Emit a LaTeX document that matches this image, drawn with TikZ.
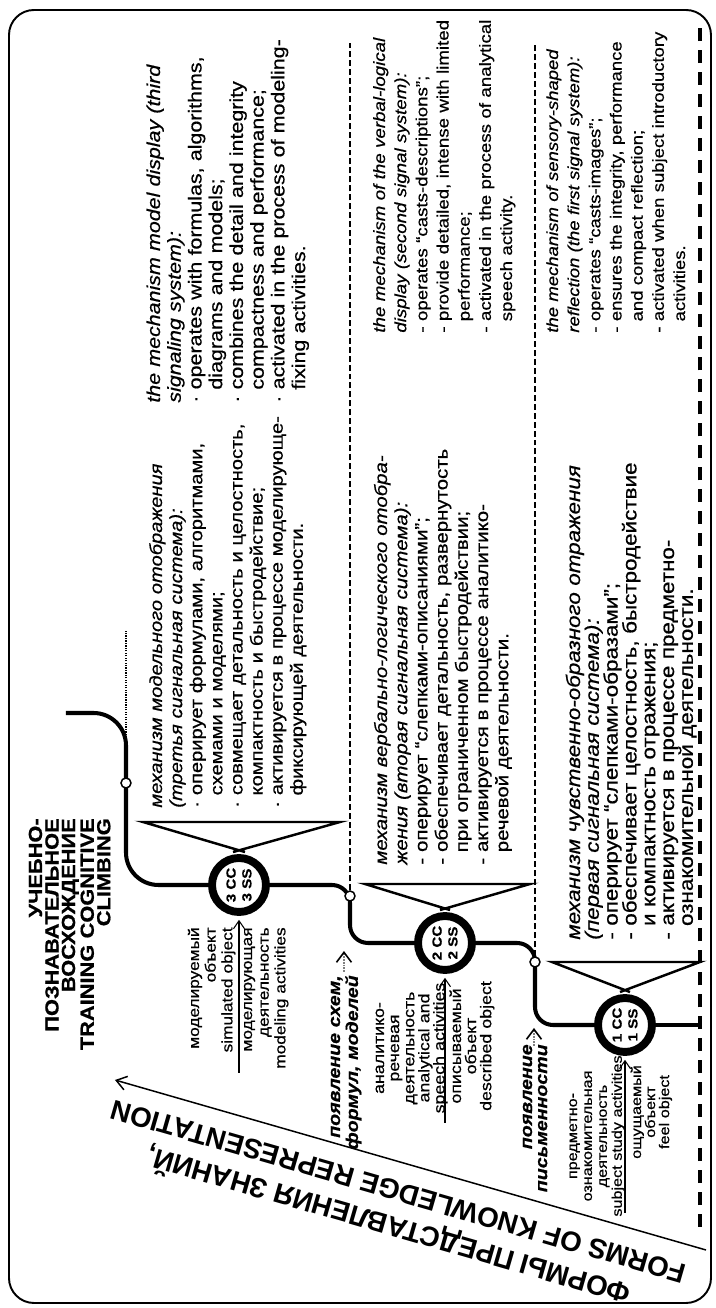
\documentclass[tikz,border=0pt]{standalone}
\usepackage{fontspec}
\setmainfont{Liberation Sans}[FakeStretch=1.15,FakeBold=0.6]
\newfontfamily\formsfont{Liberation Sans}
\usetikzlibrary{calc,arrows.meta}
\newcommand{\ind}{\hspace*{0.7em}}

\begin{document}
\begin{tikzpicture}[x=0.02cm,y=0.02cm]
\begin{scope}[rotate=90,transform shape]
\tikzstyle{cc}=[circle,draw=black,fill=white,line width=4.5pt,minimum size=1.08cm,inner sep=0pt,align=center,font=\fontsize{7.5}{9}\selectfont\bfseries]
\tikzstyle{joint}=[circle,draw=black,fill=white,line width=0.85pt,minimum size=0.2cm,inner sep=0pt]
\tikzstyle{climb}=[line width=2.3pt]
\tikzstyle{fan}=[line width=1.4pt]
\tikzstyle{divider}=[line width=0.7pt,dash pattern=on 3.4pt off 1.7pt]
\tikzstyle{groundline}=[line width=2.3pt,dash pattern=on 7.4pt off 5.1pt]
\tikzstyle{feed}=[line width=0.6pt,-{Straight Barb[length=1.6mm,width=2.2mm]},shorten >=2.2pt]
\tikzstyle{hint}=[gray,line width=0.9pt,dash pattern=on 1pt off 0.6pt,-{Straight Barb[length=2mm,width=3mm,black]}]
\tikzstyle{lbl}=[inner sep=0pt,text width=3.6cm]
\tikzstyle{blk}=[inner sep=0pt,anchor=base west,text width=12cm,align=left]
\useasboundingbox (0,0) rectangle (1308,716);
\draw[line width=1.1pt,rounded corners=0.5cm] (5,5) rectangle (1298,707);

\node[cc] (c1) at (283,91)  {1 CC\\1 SS};
\node[cc] (c2) at (365,271) {2 CC\\2 SS};
\node[cc] (c3) at (423,477) {3 CC\\3 SS};
\coordinate (g0)  at (283,16);
\coordinate (top) at (595,650);

\draw[groundline] (81,16) -- (1285,16);
\draw[climb] (g0) -- (c1.south);
\draw[climb,rounded corners=0.36cm] (c1.north) -- (283,181) -- (365,181) -- (c2.south);
\draw[climb,rounded corners=0.36cm] (c2.north) -- (365,366) -- (423,366) -- (c3.south);
\draw[climb,rounded corners=0.65cm] (c3.north) -- (423,590) -- (595,590) -- (top);

\node[joint] (s2) at (346,181) {};
\node[joint] (s1) at (412,366) {};
\node[joint] (s3) at (525,590) {};
\draw[divider] (s1) -- (1265,366);
\draw[divider] (s2) -- (1265,181);
\draw[line width=0.7pt,dash pattern=on 0.7pt off 0.7pt] (568,590) -- (678,590);

\draw[fan] ($(c3.east)+(2,-6)$) -- (486,573) -- (486,376) -- ($(c3.east)+(2,6)$);
\draw[fan] ($(c2.east)+(2,-5)$) -- (424,351) -- (424,186) -- ($(c2.east)+(2,5)$);
\draw[fan] ($(c1.east)+(2,-5)$) -- (346,164) -- (346,16)  -- ($(c1.east)+(2,5)$);

\coordinate (a3) at (235,477);
\coordinate (a2) at (185,271);
\coordinate (a1) at (95,91);
\draw[feed] (a3) -- (c3.west);
\draw[feed] (a2) -- (c2.west);
\draw[feed] (a1) -- (c1.west);

\node[lbl,anchor=base east,align=right,font=\fontsize{8.55}{9.5}\selectfont] (l3a) at (381,517) {моделируемый\\объект\\simulated object};
\node[lbl,anchor=base east,align=right,font=\fontsize{8.55}{9.5}\selectfont] (l3b) at (381,464) {моделирующая\\деятельность\\modeling activities};
\node[lbl,anchor=base,align=center,font=\fontsize{8.8}{8.6}\selectfont] (l2a) at (260,332) {аналитико-\\речевая\\деятельность\\analytical and\\speech activities};
\node[lbl,anchor=base,align=center,font=\fontsize{8.8}{8.6}\selectfont] (l2b) at (262,255) {описываемый\\объект\\described object};
\node[lbl,anchor=base,align=center,font=\fontsize{8}{8.5}\selectfont] (l1a) at (172,139) {предметно-\\ознакомительная\\деятельность\\subject study activities};
\node[lbl,anchor=base,align=center,font=\fontsize{8}{8}\selectfont] (l1b) at (196,75) {ощущаемый\\объект\\feel object};

\node[lbl,anchor=base east,align=right,font=\fontsize{9.7}{10.2}\selectfont\bfseries\itshape] (n2) at (333,376) {появление схем,\\формул, моделей};
\node[lbl,anchor=base east,align=right,font=\fontsize{9.7}{8.6}\selectfont\bfseries\itshape] (n1) at (264,184) {появление\\письменности};
\coordinate (h2a) at (336,372);
\coordinate (h2b) at (357,372);
\coordinate (h1a) at (262,182);
\coordinate (h1b) at (280,182);
\draw[hint] (h2a) -- (h2b);
\draw[hint] (h1a) -- (h1b);

\node[inner sep=0pt,anchor=base east,text width=5cm,align=right,font=\fontsize{10.8}{9.4}\selectfont\bfseries] (ttl) at (490,674) {УЧЕБНО-\\ПОЗНАВАТЕЛЬНОЕ\\ВОСХОЖДЕНИЕ\\TRAINING COGNITIVE\\CLIMBING};

\coordinate (f0) at (58,10);
\coordinate (f1) at (228,601);
\draw[line width=0.85pt,-{Straight Barb[length=2mm,width=2.8mm]}] (f0) -- (f1);
\node[rotate=73.9,anchor=south,inner sep=0pt,outer sep=0.38cm,align=center,font=\formsfont\fontsize{15.8}{20}\selectfont\bfseries] (frm) at ($(f0)!0.507!(f1)$) {ФОРМЫ ПРЕДСТАВЛЕНИЯ ЗНАНИЙ,\\FORMS OF KNOWLEDGE REPRESENTATION};

\node[blk,font=\fontsize{9.95}{11.45}\selectfont] (t3r) at (500,554) {\textit{механизм модельного отображения}\\
\textit{(третья сигнальная система):}\\
· оперирует формулами, алгоритмами,\\
\ind схемами и моделями;\\
· совмещает детальность и целостность,\\
\ind компактность и быстродействие;\\
· активируется в процессе моделирующе-\\
\ind фиксирующей деятельности.};
\node[blk,font=\fontsize{10.6}{11.8}\selectfont] (t3e) at (905,556) {\textit{the mechanism model display (third}\\
\textit{signaling system):}\\
· operates with formulas, algorithms,\\
\ind diagrams and models;\\
· combines the detail and integrity\\
\ind compactness and performance;\\
· activated in the process of modeling-\\
\ind fixing activities.};
\node[blk,font=\fontsize{10.1}{11.5}\selectfont] (t2r) at (443,329) {\textit{механизм вербально-логического отобра-}\\
\textit{жения (вторая сигнальная система):}\\
- оперирует “слепками-описаниями”;\\
- обеспечивает детальность, развернутость\\
\ind при ограниченном быстродействии;\\
- активируется в процессе аналитико-\\
\ind речевой деятельности.};
\node[blk,font=\fontsize{9.25}{12.05}\selectfont] (t2e) at (975,331) {\textit{the mechanism of the verbal-logical}\\
\textit{display (second signal system):}\\
- operates “casts-descriptions”;\\
- provide detailed, intense with limited\\
\ind performance;\\
- activated in the process of analytical\\
\ind speech activity.};
\node[blk,font=\fontsize{11.1}{10.7}\selectfont] (t1r) at (368,136) {\textit{механизм чувственно-образного отражения}\\
\textit{(первая сигнальная система):}\\
- оперирует “слепками-образами”;\\
- обеспечивает целостность, быстродействие\\
\ind и компактность отражения;\\
- активируется в процессе предметно-\\
\ind ознакомительной деятельности.};
\node[blk,font=\fontsize{9.15}{12.05}\selectfont] (t1e) at (975,158) {\textit{the mechanism of sensory-shaped}\\
\textit{reflection (the first signal system):}\\
- operates “casts-images”;\\
- ensures the integrity, performance\\
\ind and compact reflection;\\
- activated when subject introductory\\
\ind activities.};
\end{scope}
\end{tikzpicture}
\end{document}
